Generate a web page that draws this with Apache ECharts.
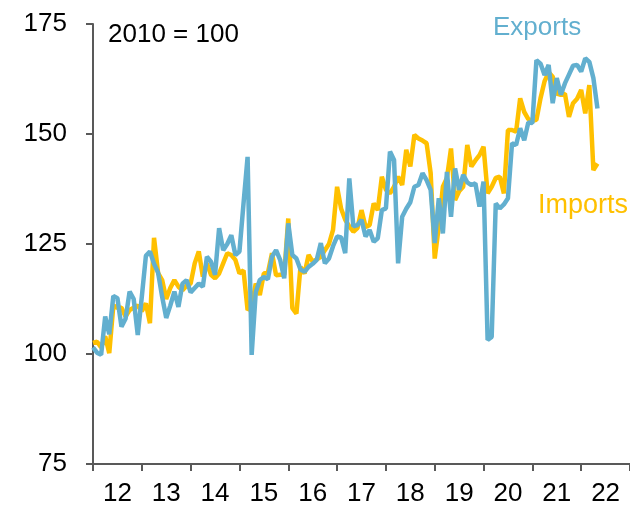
<!DOCTYPE html>
<html>
<head>
<meta charset="utf-8">
<title>Exports and imports</title>
<script src="https://cdn.jsdelivr.net/npm/echarts@6.0.0/dist/echarts.min.js"></script>
<style>
  html, body { margin: 0; padding: 0; background: #fff; }
  #main { width: 630px; height: 517px; }
</style>
</head>
<body>
<div id="main"></div>
<script>
// year labels on the x axis (one category per year)
var years = ['12', '13', '14', '15', '16', '17', '18', '19', '20', '21', '22'];

// monthly index, 2010 = 100, from Jan 2012
var exportsData = [
  101.5, 100.3, 99.8, 108.5, 104.5, 113.2, 112.7, 106.2, 108, 114.2, 112.5, 104.3,
  113, 122.3, 123.3, 120.5, 118.5, 113, 108.2, 111, 114.2, 110.7, 116, 116.8,
  114, 115, 116, 115.3, 122.1, 121, 118, 128.6, 123.6, 125, 127, 122.5,
  123.3, 134.2, 144.8, 99.8, 114, 116.8, 117.5, 117, 122.1, 123.6, 121.4, 117.2,
  129.7, 122.5, 121.7, 119.2, 118.7, 119.8, 120.5, 121.4, 125.2, 120.6, 121.7, 124.5,
  126.7, 126.5, 122.9, 139.9, 129, 129.3, 130.5, 126.7, 128.2, 125.5, 126.3, 132.7,
  133.1, 146, 144.1, 120.6, 131.2, 133, 134.5, 138, 138.4, 141.1, 139.5, 137.3,
  125.2, 135.4, 127.4, 141.4, 131.2, 142.2, 137.3, 140.7, 139, 138.4, 138.8, 133.5,
  139.2, 103.2, 103.9, 134.2, 133.1, 134, 135.4, 147.9, 147.5, 151.3, 148.6, 152.6,
  152.5, 166.8, 166, 163.4, 165.7, 157, 162.7, 158.9, 161.5, 163.5, 165.5, 165.7,
  164.2, 167.2, 166.4, 162.7, 155.8
];
var importsData = [
  102.5, 102.8, 101.5, 104, 100.2, 111, 110.5, 110.5, 108.5, 110, 110.5, 111,
  109.7, 111.5, 107, 126.4, 118.4, 116.8, 112.5, 115, 116.8, 115.3, 114.5, 115.5,
  116, 120.6, 123.3, 117.6, 120.6, 118, 117.2, 118.3, 120.6, 122.9, 122.5, 121.4,
  118.3, 119, 110, 110.8, 116, 113.4, 118.3, 118.5, 122.9, 117.9, 118, 118,
  130.8, 110.4, 109.2, 119.8, 118.3, 122.5, 121, 121.5, 122.1, 123.6, 125, 128.2,
  138, 133, 130.5, 129, 127.8, 128.6, 132.7, 128.9, 129.3, 134.2, 132.7, 140.3,
  137.3, 136.5, 138, 140.3, 138.4, 146.4, 142.6, 149.8, 149, 148.5, 147.9, 141.1,
  121.7, 129, 138, 140, 146.7, 135, 137, 138, 147.5, 142.6, 144, 145.2,
  147.1, 136.5, 138, 140, 140.3, 136.5, 150.9, 150.9, 150.5, 158.1, 155, 153.4,
  153, 153.2, 158.1, 162, 164, 163, 159.2, 158.9, 159.2, 153.9, 157, 158,
  160, 154.7, 161.1, 141.8, 143.3
];

var blue = '#62AFCF';
var yellow = '#FFC000';
var font = 'Liberation Sans';

function toPoints(arr) {
  return arr.map(function (v, i) { return [i, v]; });
}

var chart = echarts.init(document.getElementById('main'));
var option = {
  animation: false,
  grid: { left: 93, right: 0, top: 24, bottom: 53 },
  textStyle: { fontFamily: font },
  xAxis: [
    {
      type: 'category',
      data: years,
      boundaryGap: true,
      axisLine: { lineStyle: { color: '#595959', width: 2 } },
      axisTick: { show: true, length: 7, lineStyle: { color: '#595959', width: 2 } },
      axisLabel: { color: '#000', fontSize: 26, margin: 17, fontFamily: font }
    },
    {
      // months since Jan 2012, positions the lines
      type: 'value',
      min: 0,
      max: 132,
      show: false
    }
  ],
  yAxis: {
    type: 'value',
    min: 75,
    max: 175,
    interval: 25,
    splitLine: { show: false },
    axisLine: { show: true, lineStyle: { color: '#595959', width: 2 } },
    axisTick: { show: true, length: 7, lineStyle: { color: '#595959', width: 2 } },
    axisLabel: { color: '#000', fontSize: 26, margin: 26, fontFamily: font }
  },
  series: [
    {
      name: 'Imports',
      type: 'line',
      xAxisIndex: 1,
      data: toPoints(importsData),
      symbol: 'none',
      lineStyle: { color: yellow, width: 4.5 },
      itemStyle: { color: yellow }
    },
    {
      name: 'Exports',
      type: 'line',
      xAxisIndex: 1,
      data: toPoints(exportsData),
      symbol: 'none',
      lineStyle: { color: blue, width: 4.5 },
      itemStyle: { color: blue }
    }
  ],
  graphic: [
    { type: 'text', left: 108, top: 22, style: { text: '2010 = 100', fill: '#000', font: '26px ' + font } },
    { type: 'text', left: 493, top: 15, style: { text: 'Exports', fill: blue, font: '26px ' + font } },
    { type: 'text', left: 538, top: 192, style: { text: 'Imports', fill: yellow, font: '27px ' + font } }
  ]
};
chart.setOption(option);
</script>
</body>
</html>
